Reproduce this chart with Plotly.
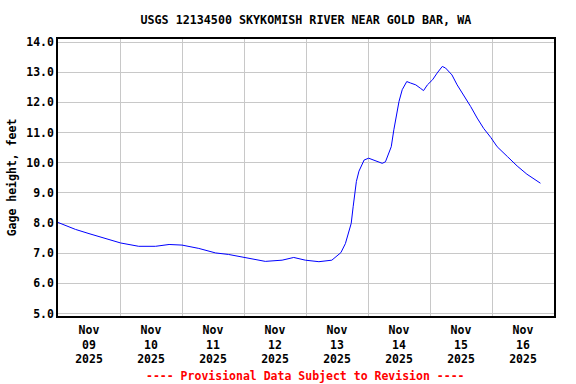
import plotly.graph_objects as go

# Gage height readings (feet)
times = [
    "2025-11-09 00:00", "2025-11-09 06:45", "2025-11-09 12:00", "2025-11-09 18:30",
    "2025-11-10 00:15", "2025-11-10 07:15", "2025-11-10 13:45", "2025-11-10 19:00",
    "2025-11-11 00:00", "2025-11-11 06:30", "2025-11-11 13:00", "2025-11-11 18:00",
    "2025-11-12 00:30", "2025-11-12 08:15", "2025-11-12 14:45", "2025-11-12 19:15",
    "2025-11-12 23:45", "2025-11-13 05:00", "2025-11-13 10:00", "2025-11-13 13:30",
    "2025-11-13 15:15", "2025-11-13 16:30", "2025-11-13 17:30", "2025-11-13 18:15",
    "2025-11-13 18:45", "2025-11-13 19:30", "2025-11-13 20:30", "2025-11-13 21:45",
    "2025-11-13 22:30", "2025-11-14 00:15", "2025-11-14 03:00", "2025-11-14 05:30",
    "2025-11-14 06:45", "2025-11-14 08:00", "2025-11-14 09:00", "2025-11-14 10:00",
    "2025-11-14 11:00", "2025-11-14 12:00", "2025-11-14 13:15", "2025-11-14 15:00",
    "2025-11-14 16:30", "2025-11-14 18:30", "2025-11-14 20:15", "2025-11-14 21:30",
    "2025-11-14 23:00", "2025-11-15 01:00", "2025-11-15 02:45", "2025-11-15 04:45",
    "2025-11-15 06:00", "2025-11-15 08:30", "2025-11-15 10:30", "2025-11-15 13:00",
    "2025-11-15 15:45", "2025-11-15 18:15", "2025-11-15 20:45", "2025-11-15 23:30",
    "2025-11-16 02:00", "2025-11-16 06:00", "2025-11-16 09:45", "2025-11-16 13:30",
    "2025-11-16 18:45",
]
gage_ft = [
    8.02, 7.79, 7.65, 7.49,
    7.34, 7.23, 7.23, 7.29,
    7.27, 7.16, 7.01, 6.96,
    6.86, 6.73, 6.77, 6.86,
    6.77, 6.72, 6.77, 7.02,
    7.32, 7.65, 7.99, 8.54,
    8.95, 9.38, 9.72, 9.96,
    10.09, 10.15, 10.07, 9.98,
    10.03, 10.28, 10.53, 11.09,
    11.53, 12.03, 12.42, 12.69,
    12.64, 12.58, 12.47, 12.39,
    12.58, 12.75, 12.97, 13.19,
    13.14, 12.91, 12.58, 12.25,
    11.86, 11.48, 11.14, 10.84,
    10.53, 10.20, 9.89, 9.62,
    9.32,
]

tick_dates = ["2025-11-09 12:00", "2025-11-10 12:00", "2025-11-11 12:00", "2025-11-12 12:00",
              "2025-11-13 12:00", "2025-11-14 12:00", "2025-11-15 12:00", "2025-11-16 12:00"]
tick_labels = ["Nov<br>09<br>2025", "Nov<br>10<br>2025", "Nov<br>11<br>2025", "Nov<br>12<br>2025",
               "Nov<br>13<br>2025", "Nov<br>14<br>2025", "Nov<br>15<br>2025", "Nov<br>16<br>2025"]
y_ticks = [5, 6, 7, 8, 9, 10, 11, 12, 13, 14]

title_text = "USGS 12134500 SKYKOMISH RIVER NEAR GOLD BAR, WA"
footer_text = "---- Provisional Data Subject to Revision ----"

FONT = "DejaVu Sans Mono"

fig = go.Figure()
fig.add_trace(go.Scatter(
    x=times, y=gage_ft, mode="lines",
    line=dict(color="#0000ff", width=1),
    showlegend=False,
))

fig.update_layout(
    width=576, height=384,
    margin=dict(l=57.5, r=22, t=39, b=68, autoexpand=False),
    paper_bgcolor="white", plot_bgcolor="white",
    font=dict(family=FONT, size=11.5, color="black"),
    title=dict(text="<b>" + title_text + "</b>", x=0.531, xanchor="center",
               y=1 - 20 / 384, yanchor="middle",
               font=dict(family=FONT, size=11.7, color="black")),
    annotations=[dict(
        text="<b>" + footer_text + "</b>", xref="paper", yref="paper",
        x=0.4985, y=-0.217, xanchor="center", yanchor="middle", showarrow=False,
        font=dict(family=FONT, size=11.5, color="red"),
    )],
)

fig.update_xaxes(
    range=["2025-11-09 00:00", "2025-11-17 00:00"],
    tickmode="array", tickvals=tick_dates, ticktext=["<b>" + t + "</b>" for t in tick_labels],
    showgrid=False, ticks="",
    minor=dict(dtick=86400000, tick0="2025-11-09", showgrid=True,
               gridcolor="#c8c8c8", gridwidth=1, ticks=""),
    showline=True, linecolor="black", linewidth=1.5, mirror=True,
    zeroline=False, automargin=False, ticklabelstandoff=2,
    tickfont=dict(family=FONT, size=11.5, color="black"),
)
fig.update_yaxes(
    range=[4.92, 14.1],
    tickmode="array", tickvals=y_ticks,
    ticktext=["<b>%.1f</b>" % v for v in y_ticks],
    showgrid=True, gridcolor="#c8c8c8", gridwidth=1, ticks="",
    showline=True, linecolor="black", linewidth=1.5, mirror=True,
    zeroline=False, automargin=False,
    title=dict(text="<b>Gage height, feet</b>", standoff=7,
               font=dict(family=FONT, size=11.5, color="black")),
    tickfont=dict(family=FONT, size=11.5, color="black"),
)

fig.write_html("out.html", config={"displayModeBar": False},
               post_script="document.body.style.margin='0';")
